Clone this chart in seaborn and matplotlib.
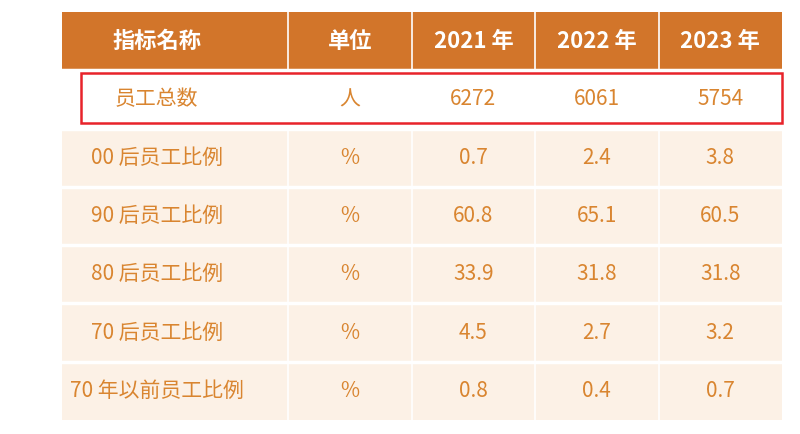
import numpy as np
import pandas as pd
import matplotlib
matplotlib.use("Agg")
import matplotlib.pyplot as plt
from matplotlib.colors import ListedColormap
from matplotlib.patches import Rectangle
import seaborn as sns

plt.rcParams["font.family"] = ["Noto Sans CJK JP", "Noto Sans CJK SC", "Noto Sans CJK TC", "DejaVu Sans"]

headers = ["指标名称", "单位", "2021 年", "2022 年", "2023 年"]
names = ["员工总数", "00 后员工比例", "90 后员工比例", "80 后员工比例", "70 后员工比例", "70 年以前员工比例"]
units = ["人", "%", "%", "%", "%", "%"]
v2021 = ["6272", "0.7", "60.8", "33.9", "4.5", "0.8"]
v2022 = ["6061", "2.4", "65.1", "31.8", "2.7", "0.4"]
v2023 = ["5754", "3.8", "60.5", "31.8", "3.2", "0.7"]
col_units = [11, 6, 6, 6, 6]

rows = [headers] + [[n, u, a, b, c] for n, u, a, b, c in zip(names, units, v2021, v2022, v2023)]
row_kind = [0, 1] + [2] * (len(names) - 1)
mat = np.repeat(np.array(row_kind)[:, None], sum(col_units), axis=1)

fig = plt.figure(figsize=(8, 4.34), dpi=100)
ax = fig.add_axes([62 / 800, 1 - 420 / 434, 720 / 800, 408 / 434])
cmap = ListedColormap(["#D2752A", "#FFFFFF", "#FCF1E6"])
sns.heatmap(pd.DataFrame(mat), ax=ax, cmap=cmap, vmin=-0.5, vmax=2.5, cbar=False,
            linewidths=0, xticklabels=False, yticklabels=False)

edges = np.concatenate([[0], np.cumsum(col_units)])
for e in edges[1:-1]:
    ax.axvline(e, color="white", lw=1.2)
for r in range(1, len(rows)):
    ax.axhline(r, color="white", lw=2.5)

text_c = "#D98530"
for r, row in enumerate(rows):
    for c, val in enumerate(row):
        cx = (edges[c] + edges[c + 1]) / 2
        if c == 0:
            cx = 4.6
        if r == 0:
            ax.text(cx, r + 0.5, val, ha="center", va="center", color="white",
                    fontsize=16, fontweight="bold")
        else:
            ax.text(cx, r + 0.5, val, ha="center", va="center", color=text_c, fontsize=15)

ax.add_patch(Rectangle((0.9, 1.05), sum(col_units) - 0.9, 0.85, fill=False,
                       edgecolor="#E8232A", lw=1.8, clip_on=False, zorder=5))
fig.savefig("out.png", dpi=100, facecolor="white")
